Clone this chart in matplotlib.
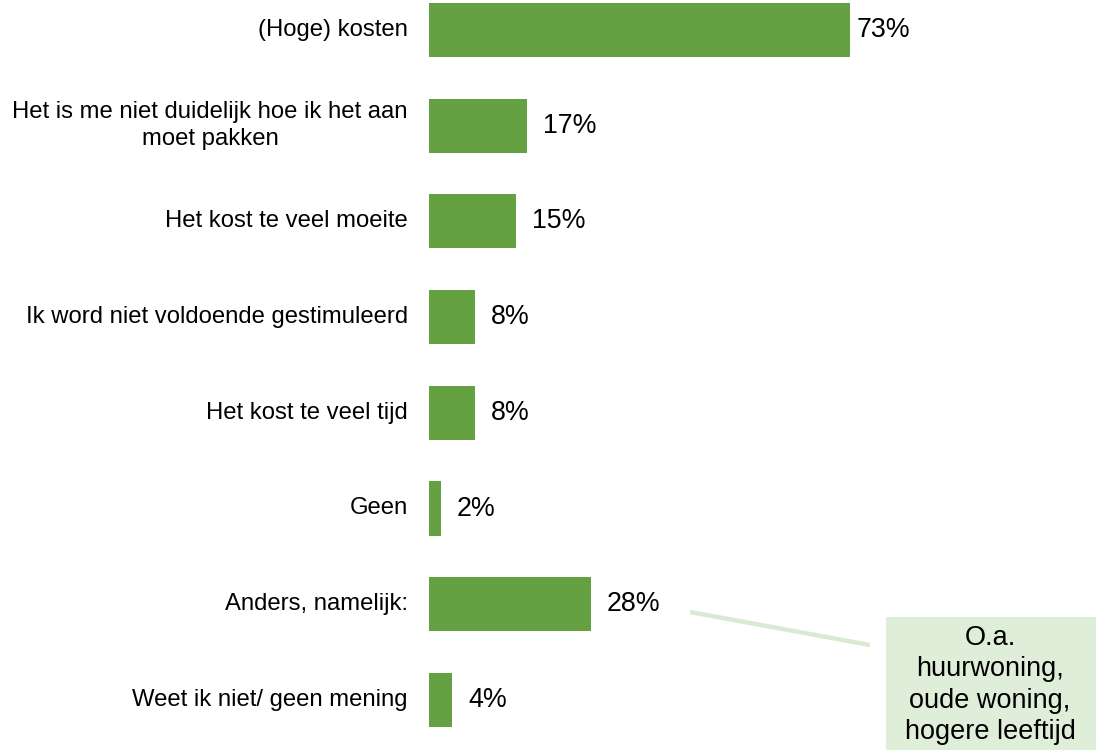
import matplotlib
matplotlib.use("Agg")
import matplotlib.pyplot as plt
from matplotlib.patches import Rectangle

plt.rcParams['font.family'] = ['Liberation Sans', 'DejaVu Sans']

categories = [
    "(Hoge) kosten",
    "Het is me niet duidelijk hoe ik het aan\nmoet pakken",
    "Het kost te veel moeite",
    "Ik word niet voldoende gestimuleerd",
    "Het kost te veel tijd",
    "Geen",
    "Anders, namelijk:",
    "Weet ik niet/ geen mening",
]
values = [73, 17, 15, 8, 8, 2, 28, 4]
value_labels = ["73%", "17%", "15%", "8%", "8%", "2%", "28%", "4%"]
callout_text = "O.a.\nhuurwoning,\noude woning,\nhogere leeftijd"

W, H = 1096, 750
fig = plt.figure(figsize=(W / 100, H / 100), dpi=100)
ax = fig.add_axes([429 / W, 0, 1 - 429 / W, 1])

bar_color = "#65a042"
ypos = list(range(len(values)))
ax.barh(ypos, values, height=0.565, color=bar_color, edgecolor="none")

ax.set_xlim(0, (W - 429) / 5.77)
ax.set_ylim((H - 30) / 95.7, -30 / 95.7)
ax.axis("off")

for i, (v, lab) in enumerate(zip(values, value_labels)):
    off = 6 if i == 0 else 16
    ax.annotate(lab, xy=(v, i), xytext=(off * 0.72, 0), textcoords="offset points",
                ha="left", va="center", fontsize=19.3, color="#000000")

for i, cat in enumerate(categories):
    ax.annotate(cat, xy=(0, i), xytext=(-21 * 0.72, 0), textcoords="offset points",
                ha="right", va="center", multialignment="center",
                fontsize=17.2, linespacing=1.28, color="#000000")

# connector line and callout box (figure pixel coordinates)
fig.add_artist(plt.Line2D([690 / W, 870 / W], [1 - 612 / H, 1 - 645 / H],
                          transform=fig.transFigure, color="#d9ead3", linewidth=3.2,
                          solid_capstyle="butt"))
fig.add_artist(Rectangle((886 / W, 0), (W - 886) / W, (H - 617) / H,
                         transform=fig.transFigure, facecolor="#dfeed8",
                         edgecolor="none"))
fig.text(990 / W, 1 - 685 / H, callout_text, ha="center", va="center",
         fontsize=19.5, linespacing=1.27, color="#000000")

fig.savefig("out.png", dpi=100)
